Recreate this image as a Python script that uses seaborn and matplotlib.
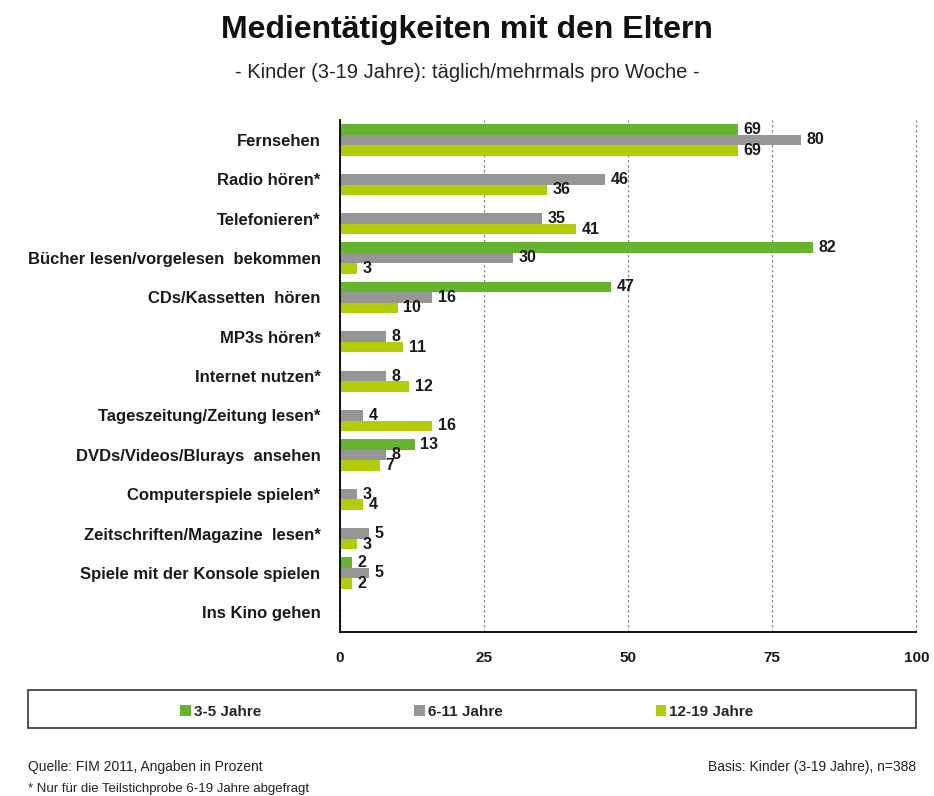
import pandas as pd
import numpy as np
import matplotlib
matplotlib.use("Agg")
import matplotlib.pyplot as plt
import seaborn as sns
from matplotlib.patches import Rectangle

categories = ["Fernsehen", "Radio hören*", "Telefonieren*",
              "Bücher lesen/vorgelesen  bekommen", "CDs/Kassetten  hören",
              "MP3s hören*", "Internet nutzen*", "Tageszeitung/Zeitung lesen*",
              "DVDs/Videos/Blurays  ansehen", "Computerspiele spielen*",
              "Zeitschriften/Magazine  lesen*", "Spiele mit der Konsole spielen",
              "Ins Kino gehen"]
groups = ["3-5 Jahre", "6-11 Jahre", "12-19 Jahre"]
kids_3_5 = [69, None, None, 82, 47, None, None, None, 13, None, None, 2, None]
kids_6_11 = [80, 46, 35, 30, 16, 8, 8, 4, 8, 3, 5, 5, None]
kids_12_19 = [69, 36, 41, 3, 10, 11, 12, 16, 7, 4, 3, 2, None]
colors = ["#66b32e", "#969696", "#b3cc0a"]

# long table, drop missing values so no bar is drawn
rows = []
for g, vals in zip(groups, [kids_3_5, kids_6_11, kids_12_19]):
    for c, v in zip(categories, vals):
        if v is not None:
            rows.append({"Aktivität": c, "Gruppe": g, "Wert": v})
df = pd.DataFrame(rows)

sns.set_style("white")
plt.rcParams['font.family'] = ['Liberation Sans', 'DejaVu Sans']

fig = plt.figure(figsize=(9.34, 7.96), dpi=100)
ax = fig.add_axes([0.364, 0.206, 0.617, 0.643])

sns.barplot(data=df, y="Aktivität", x="Wert", hue="Gruppe", order=categories,
            hue_order=groups, palette=colors, saturation=1, width=0.8,
            linewidth=0, errorbar=None, ax=ax, legend=True)

for cont in ax.containers:
    ax.bar_label(cont, fmt="%g", padding=4, fontsize=11.5, fontweight="bold",
                 color="#1a1a1a")

ax.set_xlim(0, 100)
ax.set_xticks([0, 25, 50, 75, 100])
ax.set_xlabel("")
ax.set_ylabel("")
ax.tick_params(axis="x", length=4, width=1, color="black", pad=10,
               labelsize=11)
ax.tick_params(axis="y", length=0, pad=14, labelsize=12)
for lbl in ax.get_xticklabels() + ax.get_yticklabels():
    lbl.set_fontweight("bold")
    lbl.set_color("#1a1a1a")
ax.grid(axis="x", color="#888888", linestyle=(0, (2, 2)), linewidth=0.9)
for gl in ax.get_xgridlines():
    gl.set_clip_on(False)
ax.set_axisbelow(True)
sns.despine(ax=ax, top=True, right=True)
ax.spines["left"].set_color("black")
ax.spines["bottom"].set_color("black")
ax.spines["left"].set_linewidth(1.3)
ax.spines["bottom"].set_linewidth(1.3)

handles, labels = ax.get_legend_handles_labels()
ax.get_legend().remove()
fig.legend(handles, labels, loc="center", bbox_to_anchor=(0.5, 0.1055),
           ncol=3, frameon=False, handlelength=0.7, handleheight=0.7,
           handletextpad=0.2, columnspacing=10,
           prop={"weight": "bold", "size": 11})
fig.patches.append(Rectangle((28 / 934, 1 - 728 / 796), 888 / 934, 38 / 796,
                             transform=fig.transFigure, fill=False,
                             edgecolor="#333333", linewidth=1.2))

fig.text(0.5, 1 - 30 / 796, "Medientätigkeiten mit den Eltern", ha="center",
         va="center", fontsize=23, fontweight="bold", color="#111111")
fig.text(0.5, 1 - 72 / 796, "- Kinder (3-19 Jahre): täglich/mehrmals pro Woche -",
         ha="center", va="center", fontsize=14.5, color="#222222")
fig.text(28 / 934, 1 - 767 / 796, "Quelle: FIM 2011, Angaben in Prozent",
         ha="left", va="center", fontsize=10, color="#222222")
fig.text(28 / 934, 1 - 789 / 796, "* Nur für die Teilstichprobe 6-19 Jahre abgefragt",
         ha="left", va="center", fontsize=9.5, color="#222222")
fig.text(916 / 934, 1 - 767 / 796, "Basis: Kinder (3-19 Jahre), n=388",
         ha="right", va="center", fontsize=10, color="#222222")

fig.savefig("out.png", dpi=100)
